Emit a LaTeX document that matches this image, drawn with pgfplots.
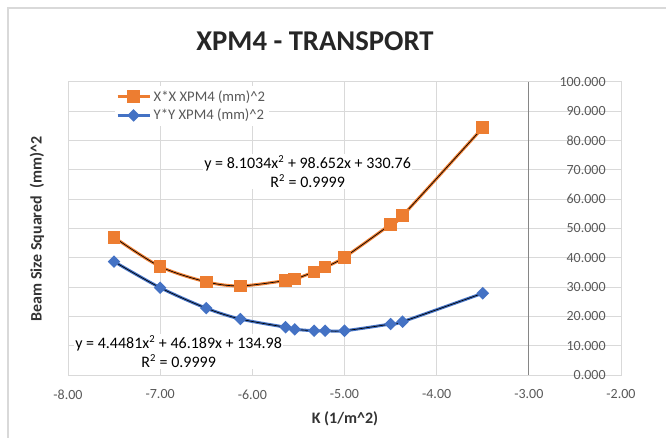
\documentclass[border=0pt]{standalone}
\usepackage{pgfplots}
\pgfplotsset{compat=1.18}
\usepackage{fontspec}
\setmainfont{Carlito}
\definecolor{xorange}{HTML}{ED7D31}
\definecolor{yblue}{HTML}{4472C4}
\definecolor{gridc}{HTML}{D9D9D9}
\definecolor{tickc}{HTML}{595959}
\definecolor{axisc}{HTML}{868686}

\pgfplotstableread{
x y
-7.50 47.0
-7.00 37.0
-6.50 31.8
-6.13 30.4
-5.64 32.2
-5.54 32.7
-5.33 35.2
-5.21 36.8
-5.00 40.2
-4.50 51.4
-4.37 54.4
-3.50 84.4
}\xdata
\pgfplotstableread{
x y
-7.50 38.7
-7.00 29.8
-6.50 22.8
-6.13 19.1
-5.64 16.3
-5.54 15.6
-5.33 15.1
-5.21 15.1
-5.00 15.1
-4.50 17.4
-4.37 18.2
-3.50 27.9
}\ydata

\begin{document}
\begin{tikzpicture}
\useasboundingbox (0pt,0pt) rectangle (499.5pt,-328.5pt);
\draw[gridc, line width=1.5pt] (6pt,-330pt) -- (6pt,-6pt) -- (501pt,-6pt);
\node[font=\bfseries\fontsize{21.5}{24}\selectfont, text=black!85] at (236.25pt,-30.75pt) {XPM4 - TRANSPORT};
\node[font=\bfseries\fontsize{12}{14}\selectfont, text=black!80, rotate=90] at (27.75pt,-171.75pt) {Beam Size Squared\ \ (mm)\^{}2};
\node[font=\bfseries\fontsize{12}{14}\selectfont, text=black!80] at (258.75pt,-314pt) {K (1/m\^{}2)};
\begin{axis}[
  at={(51pt,-281.25pt)}, anchor=south west,
  scale only axis, width=414.75pt, height=219.75pt,
  xmin=-8, xmax=-2, ymin=0, ymax=100,
  xtick={-8,-7,-6,-5,-4,-3,-2},
  ytick={0,10,20,30,40,50,60,70,80,90,100},
  grid=major, grid style={gridc, line width=0.75pt},
  axis line style={gridc, line width=0.75pt},
  major tick length=0pt,
  tick label style={font=\fontsize{10.5}{12}\selectfont, text=tickc},
  /pgf/number format/assume math mode=true,
  xticklabel style={/pgf/number format/.cd, fixed, fixed zerofill, precision=2, /tikz/.cd, yshift=-7.5pt},
  yticklabel pos=right,
  yticklabel style={/pgf/number format/.cd, fixed, fixed zerofill, precision=3, /tikz/.cd, anchor=east, xshift=-8pt},
  extra x ticks={-3}, extra x tick labels={},
  extra x tick style={grid style={axisc, line width=0.9pt}},
  legend style={at={(rel axis cs:0.084,0.986)}, anchor=north west, draw=none, fill=white,
    font=\fontsize{11}{13}\selectfont, text=tickc, row sep=0.5pt, inner sep=1pt},
  legend cell align=left,
  legend image code/.code={\draw[mark repeat=2,mark phase=2] plot coordinates {(0pt,0pt) (12pt,0pt) (24pt,0pt)};},
]
\addplot[xorange, line width=2.25pt, smooth, mark=square*, mark size=3.6pt, mark options={solid}] table[x=x,y=y] {\xdata};
\addlegendentry{X*X XPM4 (mm)\^{}2}
\addplot[yblue, line width=2.25pt, smooth, mark=square*, mark size=2.2pt, mark options={solid, rotate=45}] table[x=x,y=y] {\ydata};
\addlegendentry{Y*Y XPM4 (mm)\^{}2}
\addplot[black, line width=0.5pt, smooth, forget plot] table[x=x,y=y] {\xdata};
\addplot[black, line width=0.5pt, smooth, forget plot] table[x=x,y=y] {\ydata};
\node[fill=white, align=center, font=\fontsize{12}{14.25}\selectfont, inner sep=1pt] at (axis cs:-5.40,69.4) {y = 8.1034x\textsuperscript{2} + 98.652x + 330.76\\R\textsuperscript{2} = 0.9999};
\node[fill=white, align=center, font=\fontsize{12}{14.25}\selectfont, inner sep=1pt] at (axis cs:-6.80,8.0) {y = 4.4481x\textsuperscript{2} + 46.189x + 134.98\\R\textsuperscript{2} = 0.9999};
\end{axis}
\end{tikzpicture}
\end{document}
